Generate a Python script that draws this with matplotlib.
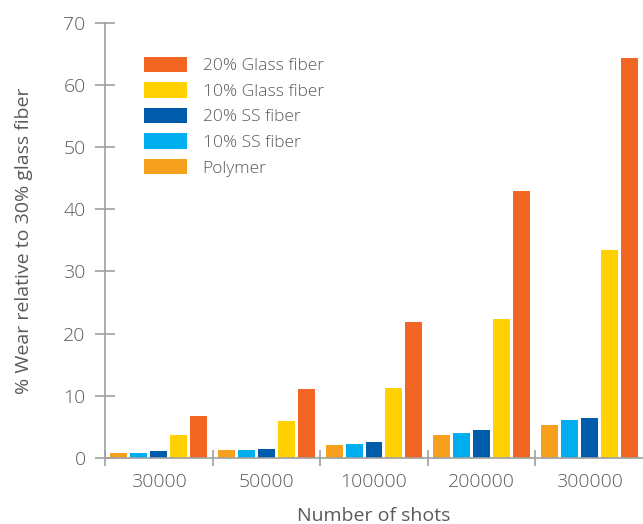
import numpy as np
import matplotlib
matplotlib.use("Agg")
import matplotlib.pyplot as plt

plt.rcParams['font.family'] = ['Open Sans', 'DejaVu Sans']
plt.rcParams['font.weight'] = 'light'

shots = ["30000", "50000", "100000", "200000", "300000"]
series = ["Polymer", "10% SS fiber", "20% SS fiber", "10% Glass fiber", "20% Glass fiber"]
polymer = [0.8, 1.3, 2.1, 3.7, 5.3]
ss10 = [0.8, 1.3, 2.3, 4.0, 6.1]
ss20 = [1.1, 1.5, 2.5, 4.5, 6.4]
gf10 = [3.7, 5.9, 11.2, 22.3, 33.4]
gf20 = [6.7, 11.1, 21.8, 43.0, 64.3]
colors = ["#F7A01E", "#00AEEF", "#005BAA", "#FFD100", "#F26522"]

values = [polymer, ss10, ss20, gf10, gf20]
grey = "#A0A0A0"
txt = "#5A5A5A"

fig = plt.figure(figsize=(6.43, 5.24), dpi=100)
ax = fig.add_axes([105 / 643, 66 / 524, 1 - 105 / 643, (458 - 22.7) / 524])

x = np.arange(len(shots))
step = 20 / 108
width = 17 / 108
handles = []
for i, (vals, c, name) in enumerate(zip(values, colors, series)):
    b = ax.bar(x + (i - 2) * step, vals, width, color=c, label=name)
    handles.append(b)

ax.set_xlim(-0.5, 4.5)
ax.set_ylim(0, 70)
ax.set_yticks(range(0, 71, 10))
ax.set_xticks(np.arange(-0.5, 4.0, 1.0))
ax.set_xticklabels([])
ax.set_xticks(x, minor=True)
ax.set_xticklabels(shots, minor=True)
ax.tick_params(axis='x', which='minor', length=0, pad=11, labelsize=14, labelcolor=txt)
ax.tick_params(axis='x', which='major', direction='inout', length=12, width=1.2, color=grey)
ax.tick_params(axis='y', direction='inout', length=14, width=1.2, color=grey,
               labelsize=14, labelcolor=txt, pad=7)

for s in ['top', 'right']:
    ax.spines[s].set_visible(False)
for s in ['left', 'bottom']:
    ax.spines[s].set_color(grey)
    ax.spines[s].set_linewidth(1.2)

ax.set_xlabel("Number of shots", fontsize=14, color=txt, labelpad=11)
ax.set_ylabel("% Wear relative to 30% glass fiber", fontsize=14, color=txt, labelpad=22)

leg = ax.legend(handles[::-1], series[::-1], loc='upper left',
                bbox_to_anchor=(135 / 643, 1 - 48 / 524), bbox_transform=fig.transFigure,
                frameon=False, fontsize=12.5, handlelength=2.5, handleheight=1.0,
                labelspacing=0.45, handletextpad=0.9, borderpad=0)
for t in leg.get_texts():
    t.set_color(txt)

fig.savefig("out.png", dpi=100)
